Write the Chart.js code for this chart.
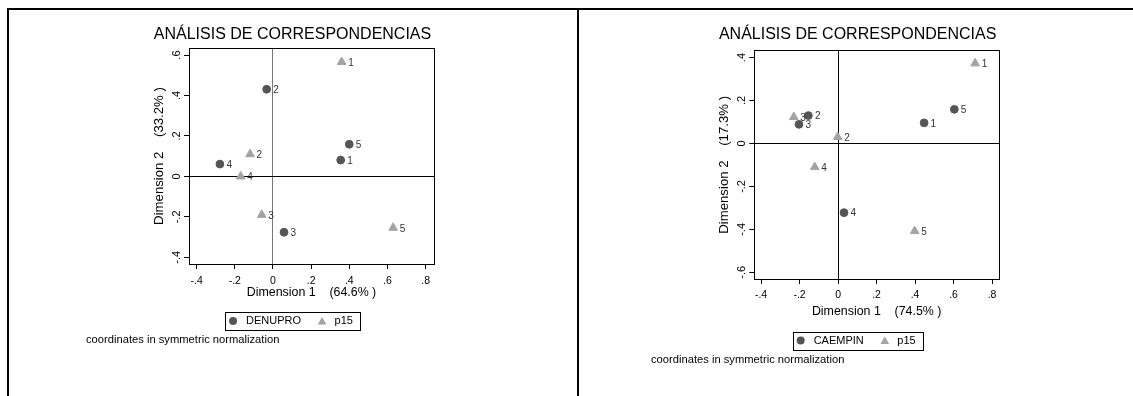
<!DOCTYPE html>
<html>
<head>
<meta charset="utf-8">
<script src="https://cdn.jsdelivr.net/npm/chart.js@4.4.1/dist/chart.umd.min.js"></script>
<style>
  html, body { margin: 0; padding: 0; background: #fff; }
  body { width: 1133px; height: 396px; position: relative; overflow: hidden; }
  .rule { position: absolute; background: #000; }
  canvas { position: absolute; }
</style>
</head>
<body>
<div class="rule" style="left:7px;top:8px;width:1126px;height:2px"></div>
<div class="rule" style="left:7px;top:8px;width:2px;height:388px"></div>
<div class="rule" style="left:577px;top:8px;width:2px;height:388px"></div>
<canvas id="denupro" width="568" height="386" style="left:9px;top:10px"></canvas>
<canvas id="caempin" width="554" height="386" style="left:579px;top:10px"></canvas>

<script>
// ---- category labels shared by both maps ----
const pointLabels = ['1', '2', '3', '4', '5'];

// ---- tick values ----
const xTickValues = [-0.4, -0.2, 0, 0.2, 0.4, 0.6, 0.8];
const denuproYTicks = [-0.4, -0.2, 0, 0.2, 0.4, 0.6];
const caempinYTicks = [-0.6, -0.4, -0.2, 0, 0.2, 0.4];

// ---- DENUPRO x p15 coordinates (symmetric normalization) ----
const denuproDim1 = [0.355, -0.033, 0.058, -0.278, 0.400];
const denuproDim2 = [0.081, 0.431, -0.276, 0.061, 0.159];
const p15aDim1 = [0.360, -0.120, -0.059, -0.169, 0.630];
const p15aDim2 = [0.566, 0.110, -0.190, 0.000, -0.254];

// ---- CAEMPIN x p15 coordinates ----
const caempinDim1 = [0.447, -0.154, -0.203, 0.031, 0.604];
const caempinDim2 = [0.096, 0.130, 0.089, -0.322, 0.159];
const p15bDim1 = [0.712, -0.002, -0.230, -0.121, 0.398];
const p15bDim2 = [0.373, 0.030, 0.123, -0.110, -0.408];

const FONT = "'Liberation Sans', Arial, Helvetica, sans-serif";
Chart.defaults.font.family = FONT;
Chart.defaults.color = '#000';

const ROW_COLOR = '#555555';
const COL_COLOR = '#a3a3a3';

function fmtTick(v) {
  const r = Math.round(v * 10) / 10;
  if (r === 0) return '0';
  return r.toString().replace(/^(-?)0\./, '$1.');
}

function toPoints(xs, ys) {
  return xs.map((x, i) => ({ x: x, y: ys[i] }));
}

// plot box, marker labels, boxed legend and footnote
const panelExtras = {
  id: 'panelExtras',
  afterDraw(chart, args, opts) {
    const ctx = chart.ctx;
    const a = chart.chartArea;
    const al = v => Math.round(v - 0.5) + 0.5;

    // plot region box
    ctx.save();
    ctx.strokeStyle = opts.frameColor;
    ctx.lineWidth = 1;
    ctx.strokeRect(al(a.left), al(a.top), al(a.right) - al(a.left), al(a.bottom) - al(a.top));
    ctx.restore();

    // marker labels
    ctx.save();
    ctx.font = '10px ' + FONT;
    ctx.fillStyle = '#333';
    ctx.textAlign = 'left';
    ctx.textBaseline = 'middle';
    chart.data.datasets.forEach((ds, di) => {
      const meta = chart.getDatasetMeta(di);
      meta.data.forEach((pt, i) => {
        ctx.fillText(pointLabels[i], pt.x + 6.5, pt.y + 1);
      });
    });
    ctx.restore();

    // legend in a box
    ctx.save();
    ctx.font = '11px ' + FONT;
    const t = chart.titleBlock;
    const cx = (t.left + t.right) / 2;
    const cy = opts.legendY;
    const names = chart.data.datasets.map(d => d.label);
    const w0 = ctx.measureText(names[0]).width;
    const w1 = ctx.measureText(names[1]).width;
    const total = 21 + w0 + 21 + 12.5 + w1 + 7;
    const left = cx - total / 2;
    ctx.strokeStyle = '#000';
    ctx.lineWidth = 1;
    ctx.strokeRect(Math.round(left) + 0.5, Math.round(cy - 9) + 0.5, Math.round(total), 18);
    const m0 = left + 8;
    const tx0 = left + 21;
    const m1 = tx0 + w0 + 21;
    const tx1 = m1 + 12.5;
    ctx.fillStyle = ROW_COLOR;
    Chart.helpers.drawPoint(ctx, { pointStyle: 'circle', radius: 4, rotation: 0, borderWidth: 0 }, m0, cy);
    ctx.fillStyle = COL_COLOR;
    Chart.helpers.drawPoint(ctx, { pointStyle: 'triangle', radius: 5, rotation: 0, borderWidth: 0 }, m1, cy + 1);
    ctx.fillStyle = '#000';
    ctx.textBaseline = 'middle';
    ctx.textAlign = 'left';
    ctx.fillText(names[0], tx0, cy);
    ctx.fillText(names[1], tx1, cy);
    ctx.restore();

    // footnote
    ctx.save();
    ctx.font = '11.2px ' + FONT;
    ctx.fillStyle = '#000';
    ctx.textBaseline = 'middle';
    ctx.fillText('coordinates in symmetric normalization', opts.noteX, opts.noteY);
    ctx.restore();
  }
};

function makeMap(id, p) {
  return new Chart(document.getElementById(id), {
    type: 'scatter',
    data: {
      datasets: [
        {
          label: p.rowName,
          data: toPoints(p.rowX, p.rowY),
          pointStyle: 'circle',
          pointRadius: 3.9,
          backgroundColor: ROW_COLOR,
          borderColor: ROW_COLOR,
          borderWidth: 1
        },
        {
          label: 'p15',
          data: toPoints(p.colX, p.colY),
          pointStyle: 'triangle',
          pointRadius: 5,
          backgroundColor: COL_COLOR,
          borderColor: COL_COLOR,
          borderWidth: 1
        }
      ]
    },
    options: {
      responsive: false,
      animation: false,
      devicePixelRatio: 1,
      events: [],
      layout: { padding: { left: p.padL, right: p.padR, top: p.padT, bottom: p.padB } },
      plugins: {
        legend: { display: false },
        tooltip: { enabled: false },
        title: {
          display: true,
          text: 'ANÁLISIS DE CORRESPONDENCIAS',
          color: '#000',
          font: { size: 16, weight: 'normal', lineHeight: 1.2 },
          padding: { top: 0, bottom: p.titleGap }
        },
        panelExtras: {
          frameColor: '#000',
          legendY: p.legendY,
          noteX: p.noteX,
          noteY: p.noteY
        }
      },
      scales: {
        x: {
          type: 'linear',
          position: 'bottom',
          min: p.xMin,
          max: p.xMax,
          afterBuildTicks: s => { s.ticks = xTickValues.map(v => ({ value: v })); },
          afterFit: s => { s.height = p.xAxisH; },
          border: { display: false },
          grid: {
            drawOnChartArea: true,
            color: c => (c.tick && c.tick.value === 0) ? p.vZeroColor : 'rgba(0,0,0,0)',
            tickColor: '#000',
            tickLength: 5,
            lineWidth: 1
          },
          ticks: {
            font: { size: 10.5 },
            color: '#000',
            padding: p.xTickPad,
            maxRotation: 0,
            callback: v => fmtTick(v)
          },
          title: {
            display: true,
            text: p.xTitle,
            color: '#000',
            font: { size: 12.4, lineHeight: 1.2 },
            padding: { top: 0, bottom: 0 }
          }
        },
        y: {
          type: 'linear',
          position: 'left',
          min: p.yMin,
          max: p.yMax,
          afterBuildTicks: s => { s.ticks = p.yTicks.map(v => ({ value: v })); },
          afterFit: s => { s.width = 38; },
          border: { display: false },
          grid: {
            drawOnChartArea: true,
            color: c => (c.tick && c.tick.value === 0) ? '#000' : 'rgba(0,0,0,0)',
            tickColor: '#000',
            tickLength: 5,
            lineWidth: 1
          },
          ticks: {
            font: { size: 11 },
            color: '#000',
            padding: 1,
            minRotation: 90,
            maxRotation: 90,
            crossAlign: 'center',
            callback: v => fmtTick(v)
          },
          title: {
            display: true,
            text: p.yTitle,
            color: '#000',
            font: { size: 13.2, lineHeight: 1.2 },
            padding: { top: 0, bottom: 0 }
          }
        }
      }
    },
    plugins: [panelExtras]
  });
}

makeMap('denupro', {
  rowName: 'DENUPRO',
  rowX: denuproDim1, rowY: denuproDim2,
  colX: p15aDim1, colY: p15aDim2,
  yTicks: denuproYTicks,
  xTitle: 'Dimension 1    (64.6% )',
  yTitle: 'Dimension 2    (33.2% )',
  xMin: -0.44, xMax: 0.844, yMin: -0.433, yMax: 0.635,
  padL: 142, padR: 143, padT: 15.4, titleGap: 3.4, padB: 95.5,
  xAxisH: 36.5, xTickPad: 5.5,
  vZeroColor: '#777',
  legendY: 311, noteX: 77, noteY: 330
});

makeMap('caempin', {
  rowName: 'CAEMPIN',
  rowX: caempinDim1, rowY: caempinDim2,
  colX: p15bDim1, colY: p15bDim2,
  yTicks: caempinYTicks,
  xTitle: 'Dimension 1    (74.5% )',
  yTitle: 'Dimension 2    (17.3% )',
  xMin: -0.435, xMax: 0.836, yMin: -0.631, yMax: 0.432,
  padL: 137.3, padR: 134, padT: 15.4, titleGap: 6.1, padB: 77.1,
  xAxisH: 39.9, xTickPad: 4.5,
  vZeroColor: '#000',
  legendY: 330.5, noteX: 72, noteY: 350
});
</script>
</body>
</html>
